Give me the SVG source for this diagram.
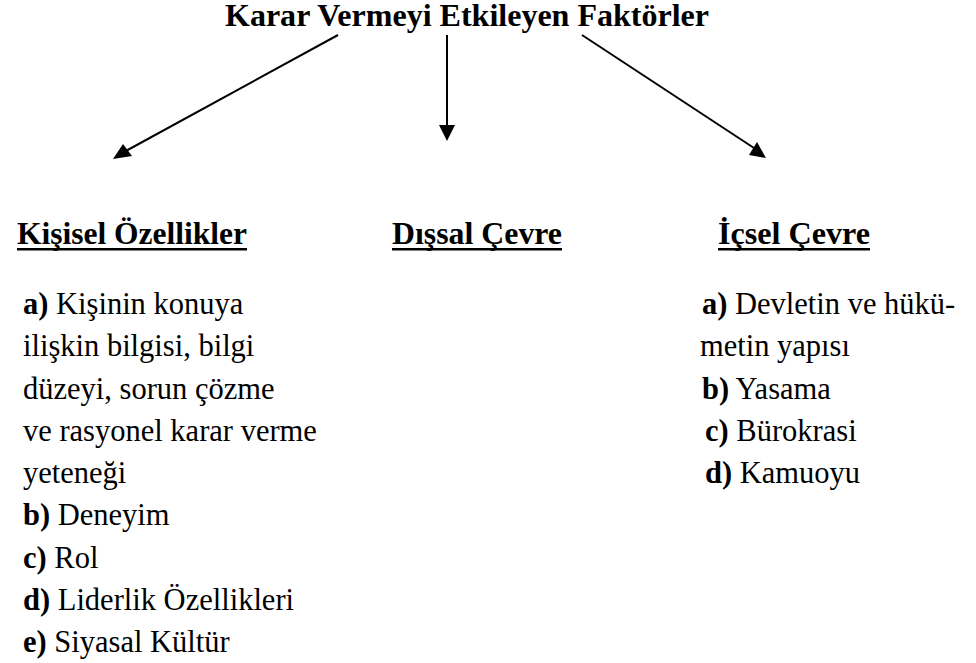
<svg xmlns="http://www.w3.org/2000/svg" width="976" height="663" viewBox="0 0 976 663">
<defs>
<style>
text{font-family:"Liberation Serif","Times New Roman",serif;fill:#000}
.t{font-size:32px;font-weight:bold}
.h{font-size:31.5px;font-weight:bold}
.b{font-size:30.5px}
.k{font-weight:bold}
.c{stroke:#000;stroke-width:2;fill:none}
.u{fill:#000}
.ah{fill:#000}
</style>
</defs>
<rect width="976" height="663" fill="#fff"/>
<g id="title"><text class="t" x="225" y="26" textLength="484" lengthAdjust="spacingAndGlyphs">Karar Vermeyi Etkileyen Faktörler</text></g>
<g id="connectors">
<path class="c" d="M338,35 L124,152"/>
<polygon class="ah" points="113,159 123,144 132,156"/>
<path class="c" d="M447,35 L447,127"/>
<polygon class="ah" points="439,125 455,125 447,141"/>
<path class="c" d="M582,35 L754,148"/>
<polygon class="ah" points="766,158 749,155 757,142"/>
</g>
<g id="kisisel">
<text class="h" x="17" y="244" textLength="230" lengthAdjust="spacingAndGlyphs">Kişisel Özellikler</text>
<rect class="u" x="17" y="248" width="230" height="2.5"/>
<text class="b" x="23" y="314"><tspan class="k">a)</tspan> Kişinin konuya</text>
<text class="b" x="23" y="356">ilişkin bilgisi, bilgi</text>
<text class="b" x="23" y="399">düzeyi, sorun çözme</text>
<text class="b" x="23" y="441">ve rasyonel karar verme</text>
<text class="b" x="23" y="483">yeteneği</text>
<text class="b" x="23" y="525"><tspan class="k">b)</tspan> Deneyim</text>
<text class="b" x="23" y="568"><tspan class="k">c)</tspan> Rol</text>
<text class="b" x="23" y="610"><tspan class="k">d)</tspan> Liderlik Özellikleri</text>
<text class="b" x="23" y="652"><tspan class="k">e)</tspan> Siyasal Kültür</text>
</g>
<g id="dissal">
<text class="h" x="392" y="244" textLength="170" lengthAdjust="spacingAndGlyphs">Dışsal Çevre</text>
<rect class="u" x="392" y="248" width="170" height="2.5"/>
</g>
<g id="icsel">
<text class="h" x="718" y="244" textLength="152" lengthAdjust="spacingAndGlyphs">İçsel Çevre</text>
<rect class="u" x="718" y="248" width="152" height="2.5"/>
<text class="b" x="702" y="314"><tspan class="k">a)</tspan> Devletin ve hükü-</text>
<text class="b" x="700" y="356">metin yapısı</text>
<text class="b" x="702" y="399"><tspan class="k">b)</tspan> Yasama</text>
<text class="b" x="705" y="441"><tspan class="k">c)</tspan> Bürokrasi</text>
<text class="b" x="705" y="483"><tspan class="k">d)</tspan> Kamuoyu</text>
</g>
</svg>
